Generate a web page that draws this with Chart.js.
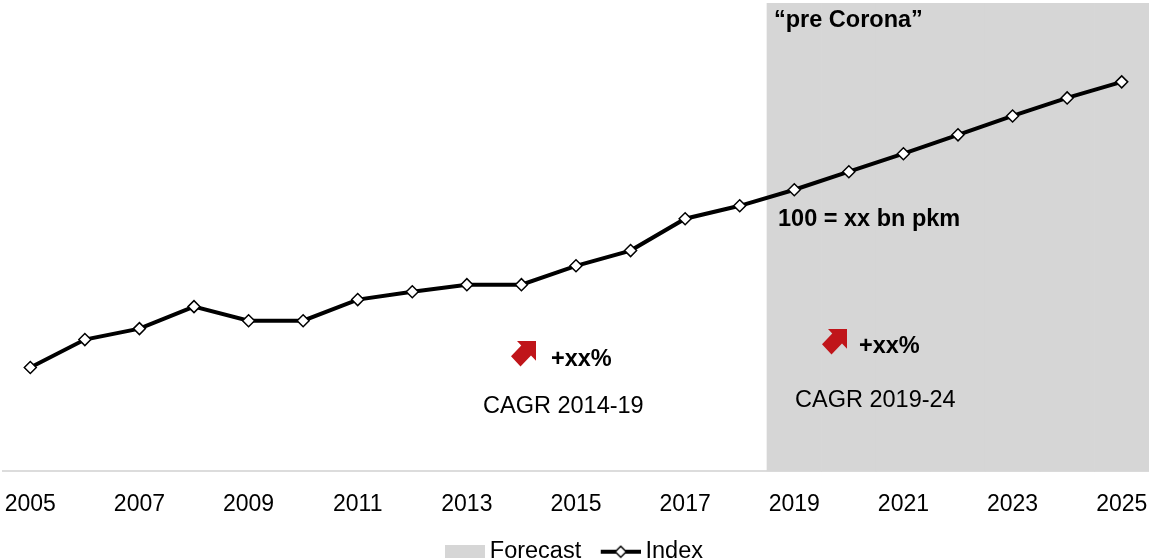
<!DOCTYPE html>
<html>
<head>
<meta charset="utf-8">
<script src="https://cdn.jsdelivr.net/npm/chart.js@4.4.1/dist/chart.umd.min.js"></script>
<style>
  html, body { margin: 0; padding: 0; background: #ffffff; }
  #wrap { width: 1149px; height: 560px; position: relative; overflow: hidden; }
</style>
</head>
<body>
<div id="wrap"><canvas id="c" width="1149" height="560"></canvas></div>
<script>
// ---- data ----
const years = ['2005','2006','2007','2008','2009','2010','2011','2012','2013','2014','2015',
               '2016','2017','2018','2019','2020','2021','2022','2023','2024','2025'];
const indexValues = [36.9, 46.8, 50.7, 58.5, 53.5, 53.5, 61.0, 63.8, 66.3, 66.3, 73.0,
                     78.4, 89.7, 94.3, 100.0, 106.4, 112.8, 119.5, 126.2, 132.6, 138.3];
const forecastYears = ['2019','2020','2021','2022','2023','2024','2025'];
const yMax = 166.3;
const forecastValues = years.map(y => forecastYears.includes(y) ? yMax : null);
const seriesNames = ['Forecast', 'Index'];
const annotationTexts = {
  preCorona: '\u201Cpre Corona\u201D',
  base: '100 = xx bn pkm',
  growth1: '+xx%',
  cagr1: 'CAGR 2014-19',
  growth2: '+xx%',
  cagr2: 'CAGR 2019-24'
};

const FONT = '"Liberation Sans", Arial, Helvetica, sans-serif';
const GREY = '#d6d6d6';
const RED = '#c0151a';

// legend symbols
function makeForecastSymbol() {
  const c = document.createElement('canvas');
  c.width = 40; c.height = 13;
  const g = c.getContext('2d');
  g.fillStyle = GREY; g.fillRect(0, 0, 40, 13);
  return c;
}
function makeIndexSymbol() {
  const c = document.createElement('canvas');
  c.width = 41; c.height = 14;
  const g = c.getContext('2d');
  g.strokeStyle = '#000'; g.lineWidth = 4;
  g.beginPath(); g.moveTo(1, 7); g.lineTo(41, 7); g.stroke();
  g.beginPath();
  g.moveTo(21, 1.5); g.lineTo(26.5, 7); g.lineTo(21, 12.5); g.lineTo(15.5, 7); g.closePath();
  g.fillStyle = '#fff'; g.fill();
  g.lineWidth = 1.5; g.stroke();
  return c;
}
const legendSymbols = [makeForecastSymbol(), makeIndexSymbol()];

function drawArrow(ctx, x, y, w, h) {
  const pts = [[0.24,0],[1,0],[1,0.76],[0.80,0.56],[0.38,0.98],[0,0.59],[0.41,0.17]];
  ctx.save();
  ctx.fillStyle = RED;
  ctx.beginPath();
  pts.forEach((p, i) => {
    const px = x + p[0] * w, py = y + p[1] * h;
    if (i === 0) ctx.moveTo(px, py); else ctx.lineTo(px, py);
  });
  ctx.closePath();
  ctx.fill();
  ctx.restore();
}

const annotationPlugin = {
  id: 'annots',
  afterDatasetsDraw(chart) {
    const ctx = chart.ctx;
    const xs = chart.scales.x;
    const fStart = (xs.getPixelForValue(13) + xs.getPixelForValue(14)) / 2;
    ctx.save();
    ctx.fillStyle = '#000';
    ctx.textBaseline = 'alphabetic';
    ctx.textAlign = 'left';
    ctx.font = 'bold 23.5px ' + FONT;
    ctx.fillText(annotationTexts.preCorona, fStart + 7, 27);
    ctx.fillText(annotationTexts.base, fStart + 11, 226);
    ctx.fillText(annotationTexts.growth1, 551, 366);
    ctx.fillText(annotationTexts.growth2, 859, 353);
    ctx.font = '23.5px ' + FONT;
    ctx.fillText(annotationTexts.cagr1, 483, 413);
    ctx.fillText(annotationTexts.cagr2, 795, 407);
    ctx.restore();
    drawArrow(ctx, 511, 341, 25, 26);
    drawArrow(ctx, 822, 329, 25, 26);
  }
};

new Chart(document.getElementById('c'), {
  type: 'bar',
  data: {
    labels: years,
    datasets: [
      {
        type: 'bar',
        label: seriesNames[0],
        data: forecastValues,
        backgroundColor: GREY,
        borderWidth: 0,
        barPercentage: 1,
        categoryPercentage: 1,
        order: 2
      },
      {
        type: 'line',
        label: seriesNames[1],
        data: indexValues,
        borderColor: '#000',
        borderWidth: 4,
        tension: 0,
        pointStyle: 'rectRot',
        pointRadius: 6,
        pointBackgroundColor: '#fff',
        pointBorderColor: '#000',
        pointBorderWidth: 1.5,
        order: 1
      }
    ]
  },
  options: {
    responsive: false,
    animation: false,
    events: [],
    layout: { autoPadding: false, padding: { left: 3, right: -2, top: 3, bottom: -13.5 } },
    scales: {
      x: {
        grid: { display: false, drawTicks: false },
        border: { display: true, color: '#dcdcdc', width: 2 },
        afterFit(scale) { scale.paddingLeft = 0; scale.paddingRight = 0; scale.height -= 16; },
        ticks: {
          autoSkip: false,
          maxRotation: 0,
          padding: 19,
          color: '#000',
          font: { family: FONT, size: 23 },
          callback: function(v, i) { return i % 2 === 0 ? this.getLabelForValue(v) : ''; }
        }
      },
      y: {
        display: false,
        min: 0,
        max: yMax
      }
    },
    plugins: {
      tooltip: { enabled: false },
      legend: {
        display: true,
        position: 'bottom',
        labels: {
          usePointStyle: true,
          pointStyleWidth: 27,
          padding: 19,
          color: '#000',
          font: { family: FONT, size: 23.5 },
          generateLabels(chart) {
            const items = Chart.defaults.plugins.legend.labels.generateLabels(chart);
            items.sort((a, b) => a.datasetIndex - b.datasetIndex);
            items.forEach(it => {
              it.pointStyle = legendSymbols[it.datasetIndex];
              it.rotation = 0;
              if (it.datasetIndex === 0) it.text = it.text + ' ';
            });
            return items;
          }
        }
      }
    }
  },
  plugins: [annotationPlugin]
});
</script>
</body>
</html>
